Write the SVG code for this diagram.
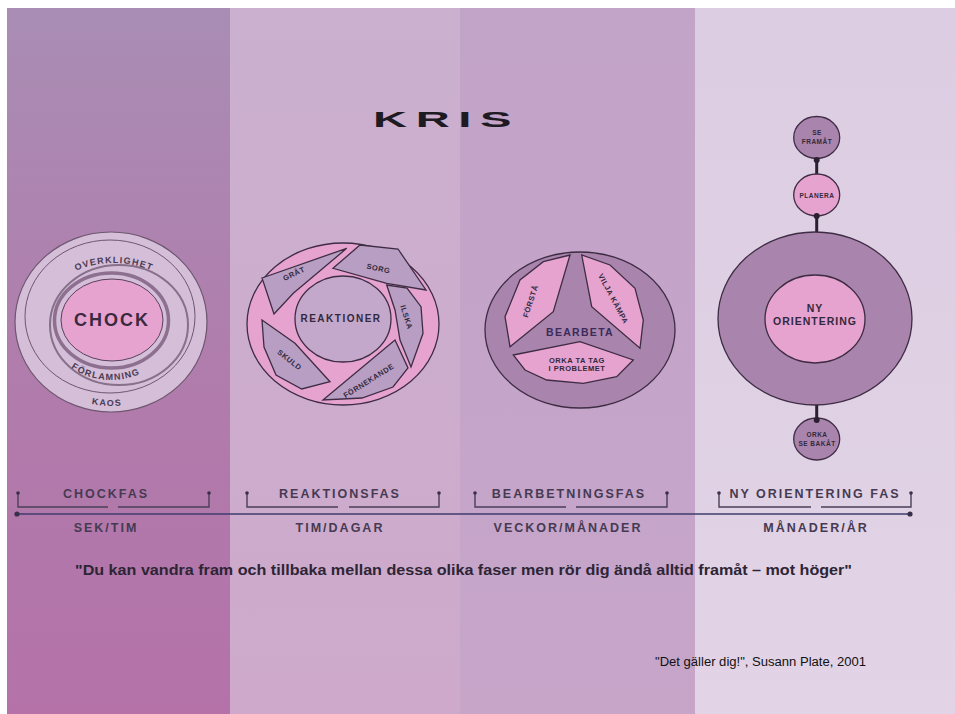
<svg xmlns="http://www.w3.org/2000/svg" width="955" height="714" viewBox="0 0 955 714">
<style>
text{font-family:"Liberation Sans",Arial,sans-serif;font-weight:bold;fill:#33293d;text-anchor:middle}
.ln{stroke:#3e2c44;stroke-width:1.3}
.pink{fill:#e6a3cf}
.purp{fill:#a985ad}
.lbl{font-size:12.5px;letter-spacing:2px;fill:#463a52}
.sm{font-size:7.5px;letter-spacing:0.5px}
.rt{font-size:9px;letter-spacing:1.2px;fill:#4a3a52}
.tick{fill:none;stroke:#4a3f58;stroke-width:1.4}
</style>
<defs>
<linearGradient id="b1" x1="0" y1="0" x2="0" y2="1"><stop offset="0" stop-color="#a98db4"/><stop offset="0.5" stop-color="#b07dac"/><stop offset="1" stop-color="#b472a9"/></linearGradient>
<linearGradient id="b2" x1="0" y1="0" x2="0" y2="1"><stop offset="0" stop-color="#cbb0cf"/><stop offset="1" stop-color="#cea9cb"/></linearGradient>
<linearGradient id="b3" x1="0" y1="0" x2="0" y2="1"><stop offset="0" stop-color="#c2a4c8"/><stop offset="1" stop-color="#c6a5c9"/></linearGradient>
<linearGradient id="b4" x1="0" y1="0" x2="0" y2="1"><stop offset="0" stop-color="#dccde2"/><stop offset="1" stop-color="#e2d4e6"/></linearGradient>
<path id="pOver" d="M39,320 A75 57 0 0 1 189,320"/>
<path id="pForl" d="M45,320 A66 60 0 0 0 177,320"/>
<path id="pKaos" d="M21,320 A90 86 0 0 0 201,320"/>
</defs>
<rect width="955" height="714" fill="#ffffff"/>
<g id="background">
<rect x="7" y="8" width="223" height="706" fill="url(#b1)"/>
<rect x="230" y="8" width="230" height="706" fill="url(#b2)"/>
<rect x="460" y="8" width="235" height="706" fill="url(#b3)"/>
<rect x="695" y="8" width="260" height="706" fill="url(#b4)"/>
</g>
<g id="title"><text x="373" y="127" style="font-size:22px;letter-spacing:4px;fill:#1e1a22;text-anchor:start" textLength="147" lengthAdjust="spacingAndGlyphs">KRIS</text></g>

<g id="chock">
<ellipse cx="111" cy="322" rx="96" ry="90" fill="#d4bed8" stroke="#6e5670" stroke-width="1.2"/>
<ellipse cx="110" cy="316.5" rx="85" ry="76.5" fill="none" stroke="#6e5670" stroke-width="1"/>
<ellipse cx="119" cy="325" rx="69" ry="60" fill="none" stroke="#86708a" stroke-width="2"/>
<ellipse cx="111.5" cy="320.5" rx="57" ry="47.5" fill="none" stroke="#8d7090" stroke-width="3.5"/>
<ellipse cx="112" cy="320" rx="51" ry="41" class="pink" stroke="#5a4060" stroke-width="1"/>
<text x="112" y="326" style="font-size:18px;letter-spacing:2px;fill:#3a2a3e">CHOCK</text>
<text class="rt"><textPath href="#pOver" startOffset="50%">OVERKLIGHET</textPath></text>
<text class="rt"><textPath href="#pForl" startOffset="47%">FÖRLAMNING</textPath></text>
<text class="rt"><textPath href="#pKaos" startOffset="48.5%">KAOS</textPath></text>
</g>

<g id="reaktioner">
<ellipse cx="343" cy="324" rx="96" ry="81" class="pink ln" stroke-width="1.5"/>
<polygon class="ln" fill="#b89ec3" points="262,278 346.7,248.3 293.3,293.3 274,314"/>
<polygon class="ln" fill="#b89ec3" points="333,268.3 360,245 398,249 426,290 386.7,283.3"/>
<polygon class="ln" fill="#b89ec3" points="386.7,285 407,288 421,306.7 423,333.3 411,367 400,340 395,310"/>
<polygon class="ln" fill="#b89ec3" points="323,400 395,340 408,368 393,387 362,398"/>
<polygon class="ln" fill="#b89ec3" points="262,320 295,343.3 330,381.7 301.7,389 276,375 264,347"/>
<ellipse cx="343" cy="319" rx="48" ry="43" fill="#c4a8cb" class="ln"/>
<text x="341" y="322" style="font-size:10px;letter-spacing:1.5px">REAKTIONER</text>
<text class="sm" transform="translate(295,276) rotate(-25)">GRÅT</text>
<text class="sm" transform="translate(378,271) rotate(12)">SORG</text>
<text class="sm" transform="translate(404,318) rotate(72)">ILSKA</text>
<text class="sm" transform="translate(370,383) rotate(-32)">FÖRNEKANDE</text>
<text class="sm" transform="translate(288,362) rotate(38)">SKULD</text>
</g>

<g id="bearbeta">
<ellipse cx="580" cy="330" rx="95" ry="78" class="purp ln" stroke-width="1.5"/>
<polygon class="pink ln" points="570,255 553.3,311.7 510,346.7 505,316.7 520,280 543.3,261.7"/>
<polygon class="pink ln" points="581.7,255 591.7,306.7 640,348.3 643.3,320 635,288.3 610,265"/>
<polygon class="pink ln" points="513.3,355 580,341.7 633.3,360 616.7,376.7 583.3,383.3 546.7,380 525,370"/>
<text x="580" y="336" style="font-size:10.5px;letter-spacing:1.3px;fill:#3b2b5a">BEARBETA</text>
<text class="sm" transform="translate(533,302) rotate(-72)">FÖRSTÅ</text>
<text class="sm" transform="translate(611,300) rotate(62)">VILJA KÄMPA</text>
<text class="sm" x="577" y="362.5">ORKA TA TAG</text>
<text class="sm" x="577" y="370.5">I PROBLEMET</text>
</g>

<g id="connectors" stroke="#2a2030" stroke-width="3">
<line x1="816.7" y1="160" x2="816.7" y2="174"/>
<line x1="816.7" y1="216" x2="816.7" y2="232"/>
<line x1="816.7" y1="405" x2="816.7" y2="420"/>
</g>

<g id="nyorientering">
<ellipse cx="815" cy="318.5" rx="97" ry="86.5" class="purp ln" stroke-width="1.5"/>
<ellipse cx="815" cy="319" rx="50" ry="44" class="pink ln"/>
<text x="815" y="312" style="font-size:10.5px;letter-spacing:1px">NY</text>
<text x="815" y="325" style="font-size:10.5px;letter-spacing:1px">ORIENTERING</text>
</g>
<g id="seframat">
<ellipse cx="816.7" cy="137.5" rx="23" ry="21" class="purp ln"/>
<text class="sm" x="817" y="135" style="font-size:6.5px">SE</text>
<text class="sm" x="817" y="144" style="font-size:6.5px">FRAMÅT</text>
</g>
<g id="planera">
<ellipse cx="816.7" cy="195" rx="23" ry="21" class="pink ln"/>
<text class="sm" x="817" y="198" style="font-size:6.5px">PLANERA</text>
</g>
<g id="orkasebakat">
<ellipse cx="816.7" cy="439" rx="23" ry="21" class="purp ln"/>
<text class="sm" x="817" y="437" style="font-size:6.5px">ORKA</text>
<text class="sm" x="817" y="446" style="font-size:6.5px">SE BAKÅT</text>
</g>
<g id="dots" fill="#2a2030">
<circle cx="816.7" cy="160" r="3"/>
<circle cx="816.7" cy="216" r="3"/>
<circle cx="816.7" cy="420" r="3"/>
</g>

<g id="timeline">
<line x1="17" y1="514" x2="910" y2="514" stroke="#3c3c6c" stroke-width="1.3"/>
<circle cx="17" cy="514" r="2.6" fill="#3a2f48"/>
<circle cx="910" cy="514" r="2.6" fill="#3a2f48"/>
<path class="tick" d="M18,493 V507 H108 M118,507 H209 V493"/>
<path class="tick" d="M247,493 V507 H338 M349,507 H439 V493"/>
<path class="tick" d="M475,493 V507 H566 M576,507 H667 V493"/>
<path class="tick" d="M719,493 V507 H811 M821,507 H911 V493"/>
<g fill="#3a2f48">
<circle cx="18" cy="493" r="1.8"/><circle cx="209" cy="493" r="1.8"/>
<circle cx="247" cy="493" r="1.8"/><circle cx="439" cy="493" r="1.8"/>
<circle cx="475" cy="493" r="1.8"/><circle cx="667" cy="493" r="1.8"/>
<circle cx="719" cy="493" r="1.8"/><circle cx="911" cy="493" r="1.8"/>
</g>
<text class="lbl" x="106" y="498">CHOCKFAS</text>
<text class="lbl" x="340" y="498">REAKTIONSFAS</text>
<text class="lbl" x="569" y="498">BEARBETNINGSFAS</text>
<text class="lbl" x="815" y="498">NY ORIENTERING FAS</text>
<text class="lbl" x="106" y="532">SEK/TIM</text>
<text class="lbl" x="340" y="532">TIM/DAGAR</text>
<text class="lbl" x="568" y="532">VECKOR/MÅNADER</text>
<text class="lbl" x="816" y="532">MÅNADER/ÅR</text>
</g>

<text x="75" y="575" style="font-size:14.5px;fill:#2d2535;text-anchor:start" textLength="777" lengthAdjust="spacingAndGlyphs">"Du kan vandra fram och tillbaka mellan dessa olika faser men rör dig ändå alltid framåt – mot höger"</text>
<text x="655" y="666" style="font-size:12.5px;font-weight:normal;fill:#111;text-anchor:start" textLength="211" lengthAdjust="spacingAndGlyphs">"Det gäller dig!", Susann Plate, 2001</text>
</svg>
